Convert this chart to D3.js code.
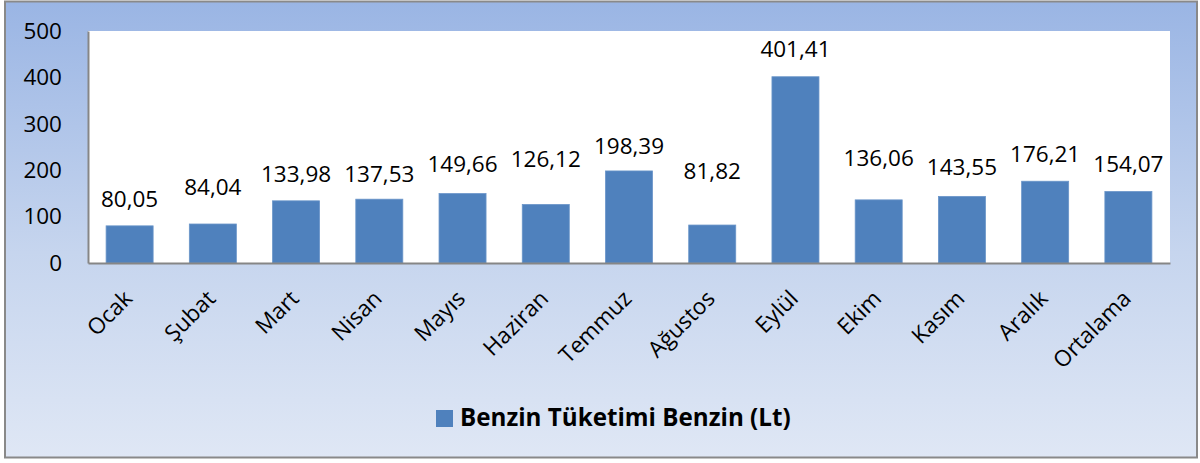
<!DOCTYPE html>
<html>
<head>
<meta charset="utf-8">
<script src="https://cdn.jsdelivr.net/npm/d3@7"></script>
<style>
  body { margin: 0; background: #fff; }
  text { font-family: "Open Sans", sans-serif; }
</style>
</head>
<body>
<svg class="main-chart" width="1200" height="463"></svg>
<script>
// data
var months = ["Ocak", "Şubat", "Mart", "Nisan", "Mayıs", "Haziran", "Temmuz",
  "Ağustos", "Eylül", "Ekim", "Kasım", "Aralık", "Ortalama"];
var benzin = [80.05, 84.04, 133.98, 137.53, 149.66, 126.12, 198.39,
  81.82, 401.41, 136.06, 143.55, 176.21, 154.07];
var yTicks = [0, 100, 200, 300, 400, 500];
var seriesName = "Benzin Tüketimi Benzin (Lt)";
// labels were nudged by hand in the original, px above bar top
var labelLift = [27, 37, 27, 25, 30, 46, 25, 54, 28, 42, 29, 27, 28];

var svg = d3.select("svg.main-chart");

// background gradient + frame
var defs = svg.append("defs");
var grad = defs.append("linearGradient").attr("id", "bg")
  .attr("x1", 0).attr("y1", 0).attr("x2", 0).attr("y2", 1);
grad.append("stop").attr("offset", "0%").attr("stop-color", "#9ab5e4");
grad.append("stop").attr("offset", "55%").attr("stop-color", "#c6d5ee");
grad.append("stop").attr("offset", "100%").attr("stop-color", "#dfe7f5");

svg.append("rect")
  .attr("x", 5).attr("y", 1.5).attr("width", 1192).attr("height", 456)
  .attr("fill", "url(#bg)")
  .attr("stroke", "#898989").attr("stroke-width", 2);

var plotL = 88, plotR = 1170, plotT = 31, plotB = 263;

var xScale = d3.scaleBand().domain(months).range([plotL, plotR])
  .paddingInner(0.435).paddingOuter(0.2175);
var yScale = d3.scaleLinear().domain([0, 500]).range([plotB, plotT]);

// plot area
svg.append("rect")
  .attr("x", plotL).attr("y", plotT)
  .attr("width", plotR - plotL).attr("height", plotB - plotT)
  .attr("fill", "#fff");

// bars
svg.selectAll("rect.bar")
  .data(benzin)
  .enter()
  .append("rect")
  .attr("class", "bar")
  .attr("x", (d, i) => xScale(months[i]))
  .attr("y", (d) => yScale(d))
  .attr("width", xScale.bandwidth())
  .attr("height", (d) => plotB - yScale(d))
  .attr("fill", "#4f81bd")
  .attr("stroke", "#6a95c9")
  .attr("stroke-width", 0.8);

// axes
var yAxis = d3.axisLeft(yScale).tickValues(yTicks).tickSize(0).tickPadding(26);
svg.append("g").attr("id", "yAxisG")
  .attr("transform", "translate(" + plotL + ",0)")
  .call(yAxis);

var xAxis = d3.axisBottom(xScale).tickSize(0).tickFormat("");
svg.append("g").attr("id", "xAxisG")
  .attr("transform", "translate(0," + plotB + ")")
  .call(xAxis);

d3.selectAll("#yAxisG .domain, #xAxisG .domain")
  .attr("stroke", "#868686").attr("stroke-width", 2);

d3.selectAll("#yAxisG text")
  .style("font-size", "22.5px")
  .attr("fill", "#000")
  .attr("font-family", null);

// rotated month labels
svg.selectAll("text.month")
  .data(months)
  .enter()
  .append("text")
  .attr("class", "month")
  .attr("text-anchor", "end")
  .attr("transform", (d) => "translate(" + (xScale(d) + xScale.bandwidth() / 2 + 4) + ",300)rotate(-45)")
  .style("font-size", "22.5px")
  .attr("fill", "#000")
  .text((d) => d);

// value labels
svg.selectAll("text.val")
  .data(benzin)
  .enter()
  .append("text")
  .attr("class", "val")
  .attr("text-anchor", "middle")
  .attr("x", (d, i) => xScale(months[i]) + xScale.bandwidth() / 2)
  .attr("y", (d, i) => yScale(d) - labelLift[i])
  .attr("dy", "0.36em")
  .style("font-size", "22.5px")
  .attr("fill", "#000")
  .text((d) => d3.format(".2f")(d).replace(".", ","));

// legend
var legend = svg.append("g").attr("id", "legend");
legend.append("rect")
  .attr("x", 436).attr("y", 410).attr("width", 17).attr("height", 17)
  .attr("fill", "#4f81bd");
legend.append("text")
  .attr("x", 460).attr("y", 426)
  .style("font-size", "24.2px")
  .style("font-weight", "bold")
  .attr("fill", "#000")
  .text(seriesName);
</script>
</body>
</html>
